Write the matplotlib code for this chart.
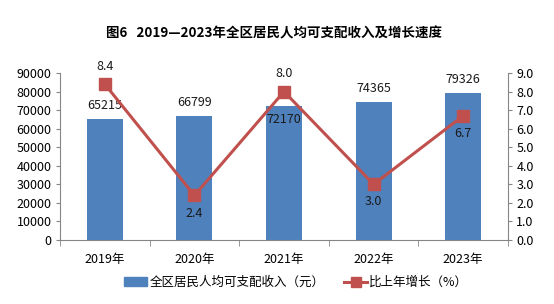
import matplotlib.pyplot as plt
import numpy as np
from matplotlib.lines import Line2D
from matplotlib.patches import Patch

plt.rcParams['font.family'] = ['Noto Sans CJK SC', 'DejaVu Sans']

# Data
years = ['2019年', '2020年', '2021年', '2022年', '2023年']
income = [65215, 66799, 72170, 74365, 79326]
growth = [8.4, 2.4, 8.0, 3.0, 6.7]
bar_label_inside = [False, False, True, False, False]
line_label_above = [True, False, True, False, False]

bar_color = '#4F81BD'
line_color = '#C0504D'
axis_color = '#868686'

fig = plt.figure(figsize=(5.54, 3.04), dpi=100)
ax = fig.add_axes([0.1083, 0.2105, 0.8087, 0.5493])
ax2 = ax.twinx()

x = np.arange(len(years))
bars = ax.bar(x, income, width=0.4, color=bar_color, zorder=2)
ax2.plot(x, growth, color=line_color, lw=2.2, marker='s', ms=9, zorder=3)

ax.set_xlim(-0.5, len(years) - 0.5)
ax.set_ylim(0, 90000)
ax.set_yticks(np.arange(0, 90001, 10000))
ax2.set_ylim(0, 9)
ax2.set_yticks(np.arange(0, 9.01, 1))
ax2.set_yticklabels([f'{v:.1f}' for v in np.arange(0, 9.01, 1)])

ax.set_xticks(x)
ax.set_xticklabels(years)
ax.set_xticks(np.arange(-0.5, len(years), 1), minor=True)
ax.tick_params(axis='x', which='major', length=0, pad=9, labelsize=9)
ax.tick_params(axis='x', which='minor', length=4, color=axis_color)
ax.tick_params(axis='y', length=3, color=axis_color, labelsize=9, pad=3)
ax2.tick_params(axis='y', length=3, color=axis_color, labelsize=9, pad=3)

for a in (ax, ax2):
    a.spines['top'].set_visible(False)
    for s in ('left', 'right', 'bottom'):
        a.spines[s].set_color(axis_color)
ax.spines['right'].set_visible(False)
ax2.spines['left'].set_visible(False)
ax2.spines['bottom'].set_visible(False)

# Bar value labels
for xi, v, inside in zip(x, income, bar_label_inside):
    if inside:
        ax.annotate(f'{v}', (xi, v), xytext=(0, -5), textcoords='offset points',
                    ha='center', va='top', fontsize=9, color='#1a1a1a')
    else:
        ax.annotate(f'{v}', (xi, v), xytext=(0, 5), textcoords='offset points',
                    ha='center', va='bottom', fontsize=9, color='#1a1a1a')

# Line value labels
for xi, v, above in zip(x, growth, line_label_above):
    off = 8 if above else -8
    ax2.annotate(f'{v:.1f}', (xi, v), xytext=(0, off), textcoords='offset points',
                 ha='center', va='bottom' if above else 'top', fontsize=9, color='#1a1a1a')

fig.text(0.494, 0.89, '图6   2019—2023年全区居民人均可支配收入及增长速度',
         ha='center', va='center', fontsize=9.7, fontweight='bold')

handles = [Patch(color=bar_color),
           Line2D([0], [0], color=line_color, lw=2.2, marker='s', ms=7)]
labels = ['全区居民人均可支配收入（元）', '比上年增长（%）']
fig.legend(handles, labels, loc='center', bbox_to_anchor=(0.535, 0.07), ncol=2,
           frameon=False, fontsize=9, handlelength=1.8, columnspacing=1.6,
           handletextpad=0.2)

plt.savefig('out.png', dpi=100)
